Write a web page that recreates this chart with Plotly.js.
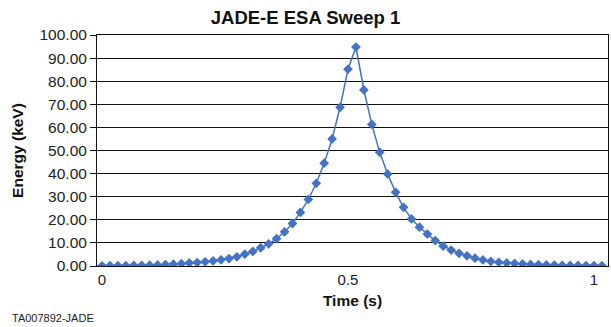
<!DOCTYPE html>
<html>
<head>
<meta charset="utf-8">
<script src="https://cdn.plot.ly/plotly-3.0.1.min.js"></script>
<style>html,body{margin:0;padding:0;background:#fff;}#chart{width:611px;height:327px;}</style>
</head>
<body>
<div id="chart"></div>
<script>
// Time (s) of each sweep step
const timeS = [
  0.0000, 0.0161, 0.0323, 0.0484, 0.0645, 0.0806, 0.0968, 0.1129,
  0.1290, 0.1452, 0.1613, 0.1774, 0.1935, 0.2097, 0.2258, 0.2419,
  0.2581, 0.2742, 0.2903, 0.3065, 0.3226, 0.3387, 0.3548, 0.3710,
  0.3871, 0.4032, 0.4194, 0.4355, 0.4516, 0.4677, 0.4839, 0.5000,
  0.5161, 0.5323, 0.5484, 0.5645, 0.5806, 0.5968, 0.6129, 0.6290,
  0.6452, 0.6613, 0.6774, 0.6935, 0.7097, 0.7258, 0.7419, 0.7581,
  0.7742, 0.7903, 0.8065, 0.8226, 0.8387, 0.8548, 0.8710, 0.8871,
  0.9032, 0.9194, 0.9355, 0.9516, 0.9677, 0.9839, 1.0000, 1.0161
];
// Energy (keV) of each sweep step
const energyKeV = [
  0.10, 0.12, 0.15, 0.18, 0.22, 0.28, 0.35, 0.45,
  0.60, 0.80, 1.00, 1.30, 1.50, 1.80, 2.20, 2.70,
  3.20, 4.00, 5.10, 6.30, 7.90, 9.60, 11.80, 14.80,
  18.40, 23.20, 28.80, 35.80, 44.50, 55.00, 68.70, 85.20,
  94.80, 76.20, 61.30, 49.20, 39.80, 31.90, 25.40, 20.40,
  16.80, 13.80, 11.00, 8.60, 6.90, 5.50, 4.40, 3.40,
  2.60, 2.00, 1.60, 1.30, 1.10, 0.90, 0.70, 0.55,
  0.45, 0.38, 0.32, 0.27, 0.23, 0.20, 0.17, 0.15
];
const xTickVals = [0, 0.5, 1];
const xTickText = ["0", "0.5", "1"];
const yTickVals = [0, 10, 20, 30, 40, 50, 60, 70, 80, 90, 100];

const FONT = "Liberation Sans, Arial, sans-serif";
const blue = "#4472C4";

const trace = {
  x: timeS,
  y: energyKeV,
  type: "scatter",
  mode: "lines+markers",
  line: {color: blue, width: 1.5},
  marker: {symbol: "diamond", size: 7.5, color: blue},
  hoverinfo: "x+y"
};

const layout = {
  width: 611,
  height: 327,
  margin: {l: 97, r: 3, t: 35, b: 61},
  paper_bgcolor: "#fff",
  plot_bgcolor: "#fff",
  showlegend: false,
  font: {family: FONT, color: "#222", size: 15},
  title: {
    text: "<b>JADE-E ESA Sweep 1</b>",
    font: {family: FONT, size: 18.5, color: "#111"},
    x: 0.5, xanchor: "center",
    y: 0.946, yanchor: "middle"
  },
  xaxis: {
    range: [-0.0102, 1.0285],
    tickvals: xTickVals,
    ticktext: xTickText,
    ticks: "",
    showgrid: false,
    zeroline: false,
    showline: true,
    mirror: true,
    linecolor: "#111",
    linewidth: 1,
    tickfont: {family: FONT, size: 15, color: "#222"},
    title: {text: "<b>Time (s)</b>", font: {family: FONT, size: 15.5, color: "#111"}, standoff: 8}
  },
  yaxis: {
    range: [0, 100],
    tickvals: yTickVals,
    tickformat: ".2f",
    ticks: "outside",
    ticklen: 6,
    tickcolor: "#111",
    showgrid: true,
    gridcolor: "#111",
    gridwidth: 1,
    zeroline: false,
    showline: true,
    mirror: true,
    linecolor: "#111",
    linewidth: 1,
    tickfont: {family: FONT, size: 15.5, color: "#222"},
    title: {text: "<b>Energy (keV)</b>", font: {family: FONT, size: 15.5, color: "#111"}, standoff: 12}
  },
  annotations: [{
    text: "TA007892-JADE",
    xref: "paper", yref: "paper",
    x: -0.170, y: -0.225,
    xanchor: "left", yanchor: "middle",
    showarrow: false,
    font: {family: FONT, size: 11, color: "#222"}
  }]
};

Plotly.newPlot("chart", [trace], layout, {displayModeBar: false, staticPlot: true});
</script>
</body>
</html>
